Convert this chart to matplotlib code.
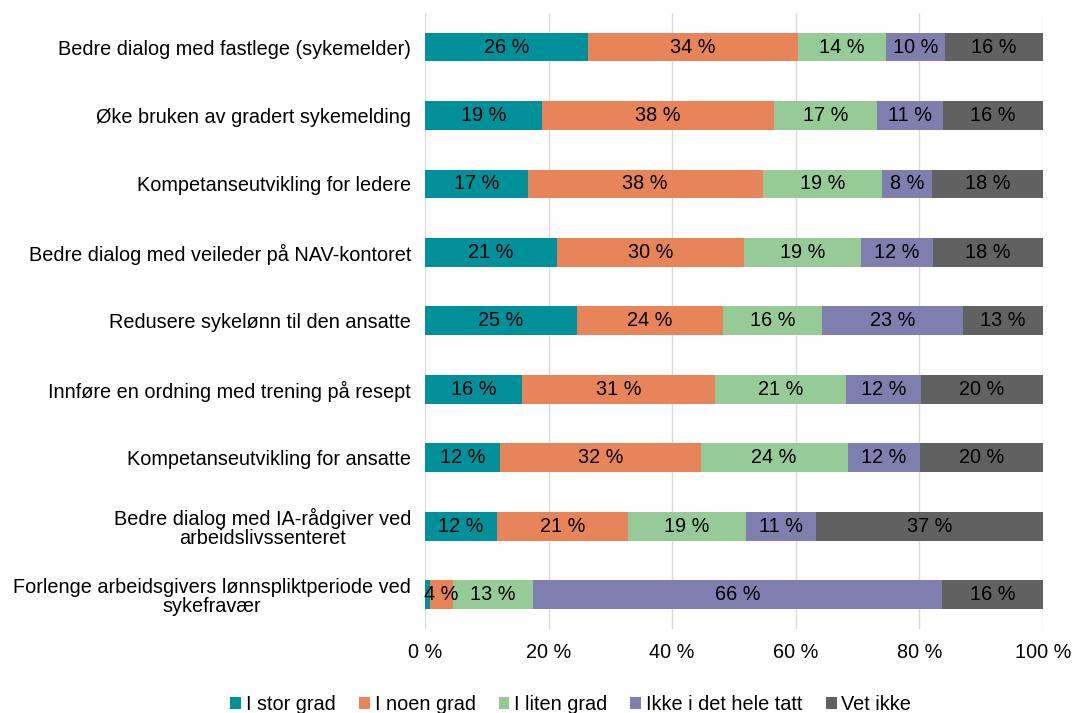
import numpy as np
import matplotlib.pyplot as plt

plt.rcParams['font.family'] = ['Liberation Sans', 'DejaVu Sans']

categories = [
    "Bedre dialog med fastlege (sykemelder)",
    "Øke bruken av gradert sykemelding",
    "Kompetanseutvikling for ledere",
    "Bedre dialog med veileder på NAV-kontoret",
    "Redusere sykelønn til den ansatte",
    "Innføre en ordning med trening på resept",
    "Kompetanseutvikling for ansatte",
    "Bedre dialog med IA-rådgiver ved\narbeidslivssenteret",
    "Forlenge arbeidsgivers lønnspliktperiode ved\nsykefravær",
]

series_names = ["I stor grad", "I noen grad", "I liten grad", "Ikke i det hele tatt", "Vet ikke"]

stor_grad = [26.4, 18.9, 16.6, 21.4, 24.6, 15.7, 12.2, 11.6, 0.9]
noen_grad = [34.0, 37.6, 38.1, 30.2, 23.6, 31.3, 32.4, 21.3, 3.6]
liten_grad = [14.2, 16.6, 19.2, 19.0, 16.0, 21.1, 23.8, 19.0, 13.0]
ikke_i_det_hele = [9.6, 10.8, 8.2, 11.6, 22.9, 12.2, 11.7, 11.4, 66.1]
vet_ikke = [15.8, 16.1, 17.9, 17.8, 12.9, 19.7, 19.9, 36.7, 16.4]

colors = ["#00909A", "#E8845A", "#96CB98", "#7F7FAF", "#616161"]

xticks = [0, 20, 40, 60, 80, 100]
xtick_labels = ["0 %", "20 %", "40 %", "60 %", "80 %", "100 %"]

fs = 14.3

fig = plt.figure(figsize=(10.73, 7.13), dpi=100)
ax = fig.add_axes([0.396, 0.118, 0.576, 0.864])

y = np.arange(len(categories))
left = np.zeros(len(categories))
for name, vals, col in zip(series_names,
                           [stor_grad, noen_grad, liten_grad, ikke_i_det_hele, vet_ikke],
                           colors):
    vals = np.array(vals)
    ax.barh(y, vals, left=left, height=0.42, color=col, label=name, zorder=3)
    for yi, l, v in zip(y, left, vals):
        if v >= 2:
            ax.text(l + v / 2, yi, f"{round(v)} %", ha="center", va="center",
                    fontsize=fs, color="black", zorder=4)
    left += vals

ax.set_ylim(len(categories) - 0.5, -0.5)
ax.set_xlim(0, 100)
ax.set_yticks(y)
ax.set_yticklabels(categories, fontsize=fs, multialignment="center", linespacing=1.0)
ax.set_xticks(xticks)
ax.set_xticklabels(xtick_labels, fontsize=fs)
ax.tick_params(axis="y", length=0, pad=10)
ax.tick_params(axis="x", length=0, pad=10)
ax.grid(axis="x", color="#D9D9D9", linewidth=1, zorder=0)
for s in ax.spines.values():
    s.set_visible(False)

fig.legend(loc="lower center", bbox_to_anchor=(0.532, -0.026), ncol=5, frameon=False,
           fontsize=fs, handlelength=0.55, handleheight=0.55, handletextpad=0.25,
           columnspacing=1.15)

fig.savefig("out.png", dpi=100)
